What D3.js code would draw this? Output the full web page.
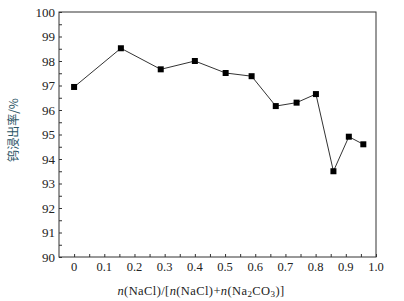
<!DOCTYPE html>
<html><head><meta charset="utf-8">
<script src="https://cdn.jsdelivr.net/npm/d3@7"></script>
<style>body{margin:0;background:#fff}svg{display:block}</style>
</head><body>
<svg id="c" width="404" height="301"></svg>
<script>
const xValues = [0, 0.155, 0.287, 0.40, 0.502, 0.588, 0.668, 0.737, 0.801, 0.859, 0.910, 0.958];
const yValues = [96.94, 98.52, 97.66, 98.0, 97.51, 97.38, 96.16, 96.30, 96.65, 93.5, 94.91, 94.6];
const xTickLabels = ["0","0.1","0.2","0.3","0.4","0.5","0.6","0.7","0.8","0.9","1.0"];
const yTickLabels = ["90","91","92","93","94","95","96","97","98","99","100"];

const svg = d3.select("#c");
const L = 59, R = 376, T = 12, B = 257;
const x = d3.scaleLinear().domain([-0.05, 1.0]).range([L, R]);
const y = d3.scaleLinear().domain([90, 100]).range([B, T]);
const serif = "'Liberation Serif','Times New Roman',serif";
const axisColor = "#333";

svg.append("rect").attr("x", L).attr("y", T).attr("width", R - L).attr("height", B - T)
  .attr("fill", "none").attr("stroke", axisColor).attr("stroke-width", 1);

const xMinor = d3.range(0, 21).map(i => i * 0.05);
const xAxis = d3.axisBottom(x).tickValues(xMinor).tickSize(-3).tickFormat("");
const gx = svg.append("g").attr("transform", `translate(0,${B})`).call(xAxis);
gx.select(".domain").remove();
gx.selectAll("line").attr("stroke", axisColor);
const xMajor = xTickLabels.map(Number);
svg.append("g").selectAll("text").data(xMajor).join("text")
  .attr("x", (d) => x(d)).attr("y", 271)
  .attr("text-anchor", "middle").attr("font-family", serif).attr("font-size", 12.5).attr("fill", "#222")
  .text((d, i) => xTickLabels[i]);

const yMinor = d3.range(0, 21).map(i => 90 + i * 0.5);
const yAxis = d3.axisLeft(y).tickValues(yMinor).tickSize(-3).tickFormat("");
const gy = svg.append("g").attr("transform", `translate(${L},0)`).call(yAxis);
gy.select(".domain").remove();
gy.selectAll("line").attr("stroke", axisColor);
svg.append("g").selectAll("text").data(yTickLabels).join("text")
  .attr("x", 55).attr("y", d => y(+d) + 4.5)
  .attr("text-anchor", "end").attr("font-family", serif).attr("font-size", 13).attr("fill", "#222")
  .text(d => d);

const data = xValues.map((v, i) => [v, yValues[i]]);
svg.append("path").datum(data)
  .attr("d", d3.line().x(d => x(d[0])).y(d => y(d[1])))
  .attr("fill", "none").attr("stroke", "#333").attr("stroke-width", 1);
const s = 6;
svg.append("g").selectAll("rect").data(data).join("rect")
  .attr("x", d => x(d[0]) - s / 2).attr("y", d => y(d[1]) - s / 2)
  .attr("width", s).attr("height", s).attr("fill", "#000");

svg.append("text")
  .attr("transform", "translate(18,130) rotate(-90)")
  .attr("text-anchor", "middle").attr("font-size", 12)
  .attr("font-family", "'Noto Sans CJK SC', sans-serif").attr("fill", "#2b5566")
  .text("钨浸出率/%");

const xl = svg.append("text").attr("x", 201).attr("y", 295).attr("text-anchor", "middle")
  .attr("font-family", serif).attr("font-size", 12.5).attr("letter-spacing", 0.4).attr("fill", "#222");
xl.append("tspan").attr("font-style", "italic").text("n");
xl.append("tspan").text("(NaCl)/[");
xl.append("tspan").attr("font-style", "italic").text("n");
xl.append("tspan").text("(NaCl)+");
xl.append("tspan").attr("font-style", "italic").text("n");
xl.append("tspan").text("(Na");
xl.append("tspan").attr("font-size", 9).attr("dy", 2).text("2");
xl.append("tspan").attr("dy", -2).text("CO");
xl.append("tspan").attr("font-size", 9).attr("dy", 2).text("3");
xl.append("tspan").attr("dy", -2).text(")]");
</script>
</body></html>
